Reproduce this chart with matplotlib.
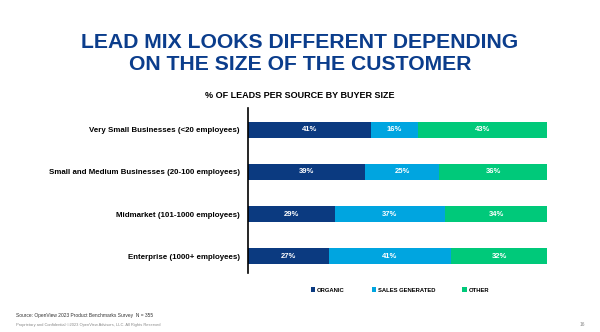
import matplotlib.pyplot as plt
import numpy as np

segments = ["Very Small Businesses (<20 employees)",
            "Small and Medium Businesses (20-100 employees)",
            "Midmarket (101-1000 employees)",
            "Enterprise (1000+ employees)"]
sources = ["ORGANIC", "SALES GENERATED", "OTHER"]
organic = [41, 39, 29, 27]
sales_generated = [16, 25, 37, 41]
other = [43, 36, 34, 32]

colors = ["#0b3a80", "#00a5e0", "#00c97a"]
navy = "#0b3d8c"
plt.rcParams["font.family"] = ["Liberation Sans", "DejaVu Sans"]

fig = plt.figure(figsize=(6, 3.32), dpi=100)
ax = fig.add_axes([248/600, 1 - 273/332, 299/600, 165/332])

y = np.arange(len(segments))
left = np.zeros(len(segments))
for vals, name, c in zip([organic, sales_generated, other], sources, colors):
    bars = ax.barh(y, vals, left=left, height=0.38, color=c, label=name)
    for b, v in zip(bars, vals):
        ax.text(b.get_x() + b.get_width()/2, b.get_y() + b.get_height()/2, f"{v}%",
                ha="center", va="center", color="white", fontsize=5.5, fontweight="bold")
    left += np.array(vals)

ax.set_xlim(0, 100)
ax.set_ylim(3.4, -0.52)
ax.set_yticks(y)
ax.set_yticklabels(segments, fontsize=5.7, fontweight="bold")
ax.tick_params(axis="y", length=0, pad=6)
ax.set_xticks([])
for s in ["top", "right", "bottom"]:
    ax.spines[s].set_visible(False)
ax.spines["left"].set_linewidth(1.2)

fig.text(0.5, 1 - 42/332, "LEAD MIX LOOKS DIFFERENT DEPENDING", ha="center", va="center",
         fontsize=15.2, fontweight="bold", color=navy)
fig.text(0.5, 1 - 64.5/332, "ON THE SIZE OF THE CUSTOMER", ha="center", va="center",
         fontsize=15.2, fontweight="bold", color=navy)
fig.text(0.5, 1 - 96/332, "% OF LEADS PER SOURCE BY BUYER SIZE", ha="center", va="center",
         fontsize=6.5, fontweight="bold", color="black")

fig.legend(loc="center", bbox_to_anchor=(400/600, 1 - 290/332), ncol=3, frameon=False,
           handlelength=0.75, handleheight=0.75, handletextpad=0.3,
           columnspacing=4.6, prop={"weight": "bold", "size": 4.2})

fig.text(16/600, 1 - 316/332, "Source: OpenView 2023 Product Benchmarks Survey  N = 355",
         ha="left", va="center", fontsize=3.5, color="#333333")
fig.text(16/600, 1 - 325/332, "Proprietary and Confidential \u00a92023 OpenView Advisors, LLC. All Rights Reserved",
         ha="left", va="center", fontsize=2.9, color="#888888")
fig.text(582/600, 1 - 325/332, "16", ha="center", va="center", fontsize=3.5, color="#888888")

fig.savefig("out.png", dpi=100, facecolor="white")
